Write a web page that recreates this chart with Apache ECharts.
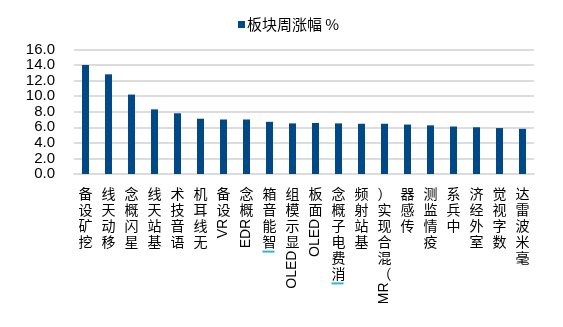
<!DOCTYPE html>
<html>
<head>
<meta charset="utf-8">
<script src="https://cdn.jsdelivr.net/npm/echarts@6/dist/echarts.min.js"></script>
<style>
  html, body { margin: 0; padding: 0; background: #fff; }
  #chart { width: 563px; height: 327px; }
</style>
</head>
<body>
<div id="chart"></div>
<script>
// Sector names and their weekly gain (%)
const categories = [
  '挖矿设备', '移动天线', '星闪概念', '基站天线', '语音技术',
  '无线耳机', 'VR设备', 'EDR概念', '智能音箱', 'OLED显示模组',
  'OLED面板', '消费电子概念', '基站射频', 'MR（混合现实）', '传感器',
  '疫情监测', '中兵系', '室外经济', '数字视觉', '毫米波雷达'
];
const weeklyGain = [
  14.0, 12.8, 10.2, 8.3, 7.8,
  7.1, 7.0, 7.0, 6.7, 6.5,
  6.55, 6.5, 6.45, 6.45, 6.35,
  6.25, 6.1, 6.0, 5.9, 5.8
];
const seriesName = '板块周涨幅 %';
const yMin = 0, yMax = 16, yStep = 2;
// Labels that carry a small cyan marker under their first character
const markedLabels = ['智能音箱', '消费电子概念'];

const BAR_COLOR = '#004986';
const GRID_COLOR = '#dcdcdc';
const CJK_FONT = '14px "Noto Sans CJK SC"';
const LATIN_FONT = '14px "Liberation Sans", Arial, sans-serif';
const CHAR_STEP = 15.9;

const chart = echarts.init(document.getElementById('chart'), null, { renderer: 'canvas' });

chart.setOption({
  animation: false,
  backgroundColor: '#fff',
  legend: {
    data: [seriesName],
    top: 12,
    left: 233,
    icon: 'rect',
    itemWidth: 7,
    itemHeight: 7,
    textStyle: {
      fontSize: 15,
      fontFamily: '"Noto Sans CJK SC"',
      color: '#000',
      padding: [0, 0, 0, -3]
    }
  },
  grid: { left: 74, right: 29, top: 49.4, height: 124.6 },
  xAxis: {
    type: 'category',
    data: categories,
    boundaryGap: true,
    axisLine: { show: true, lineStyle: { color: GRID_COLOR, width: 2 } },
    axisTick: { show: false },
    axisLabel: { show: false }
  },
  yAxis: {
    type: 'value',
    min: yMin,
    max: yMax,
    interval: yStep,
    axisLine: { show: false },
    axisTick: { show: false },
    splitLine: { lineStyle: { color: GRID_COLOR, width: 2 } },
    axisLabel: {
      margin: 19,
      fontSize: 15,
      fontFamily: '"Liberation Sans", Arial, sans-serif',
      color: '#000',
      formatter: v => v.toFixed(1)
    }
  },
  series: [{
    name: seriesName,
    type: 'bar',
    data: weeklyGain,
    barWidth: 7,
    itemStyle: { color: BAR_COLOR }
  }]
});

// Vertical category labels: CJK characters stay upright, Latin runs are
// turned 90° counter-clockwise; each label reads upward and ends at the axis.
const measureCtx = document.createElement('canvas').getContext('2d');
measureCtx.font = LATIN_FONT;

function tokenize(str) {
  const tokens = [];
  let run = '';
  for (const ch of str) {
    if (/[A-Za-z0-9]/.test(ch)) { run += ch; continue; }
    if (run) { tokens.push({ latin: true, text: run }); run = ''; }
    tokens.push({ latin: false, text: ch });
  }
  if (run) tokens.push({ latin: true, text: run });
  return tokens;
}

function buildLabels() {
  const top = chart.convertToPixel({ yAxisIndex: 0 }, yMin) + 12;
  const elements = [];
  categories.forEach((name, i) => {
    const cx = chart.convertToPixel({ xAxisIndex: 0 }, i);
    const tokens = tokenize(name).reverse();
    let y = top;
    tokens.forEach(tok => {
      if (tok.latin) {
        const w = measureCtx.measureText(tok.text).width;
        elements.push({
          type: 'text', x: cx, y: y + w / 2 + 1, rotation: Math.PI / 2, silent: true,
          style: { text: tok.text, font: LATIN_FONT, fill: '#000', align: 'center', verticalAlign: 'middle' }
        });
        y += w + 2;
      } else {
        elements.push({
          type: 'text', x: cx, y: y + CHAR_STEP / 2, silent: true,
          style: { text: tok.text, font: CJK_FONT, fill: '#000', align: 'center', verticalAlign: 'middle' }
        });
        y += CHAR_STEP;
      }
    });
    if (markedLabels.includes(name)) {
      elements.push({
        type: 'rect', silent: true,
        shape: { x: cx - 7, y: y + 1, width: 12, height: 2 },
        style: { fill: '#2fb6d0' }
      });
    }
  });
  chart.setOption({ graphic: { elements } });
}

buildLabels();
</script>
</body>
</html>
